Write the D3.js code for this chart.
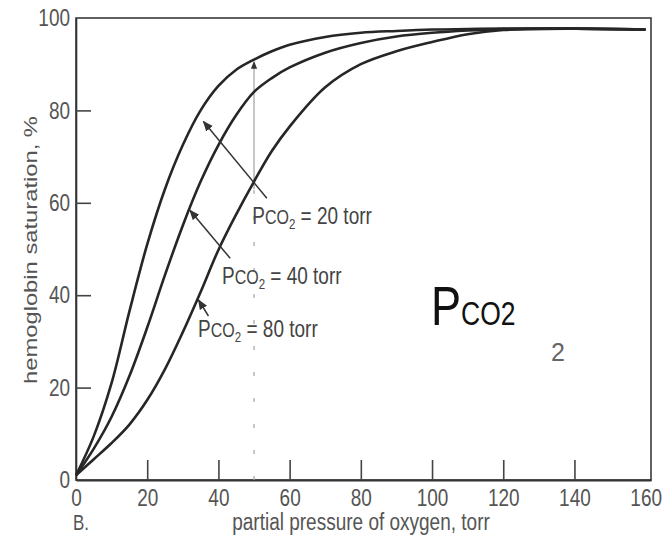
<!DOCTYPE html>
<html>
<head>
<meta charset="utf-8">
<script src="https://cdn.jsdelivr.net/npm/d3@7"></script>
<style>
  body { margin: 0; background: #fff; }
  text { font-family: "Liberation Sans", Arial, sans-serif; }
</style>
</head>
<body>
<div id="chart"></div>
<script>
// oxygen partial pressure (torr) and saturation (%) for each PCO2 curve
var pO2 = [0, 5, 10, 15, 20, 25, 30, 35, 40, 45, 50, 55, 60, 70, 80, 90, 100, 110, 120, 140, 160];
var sat20 = [1, 9.5, 21, 36.5, 51, 63, 72.5, 80, 85.3, 88.8, 91, 92.8, 94.2, 95.9, 96.8, 97.2, 97.5, 97.6, 97.7, 97.7, 97.5];
var sat40 = [1, 6.8, 13.7, 22.5, 33, 44.4, 55.1, 64.6, 72.5, 79, 84, 87, 89.3, 92.5, 94.6, 96, 96.8, 97.3, 97.6, 97.7, 97.5];
var sat80 = [1, 4.5, 8, 12, 17.3, 24, 32, 40.7, 49.8, 57.5, 64.6, 71.2, 76.5, 85, 90, 92.8, 94.8, 96.5, 97.4, 97.7, 97.5];

var xTicks = [0, 20, 40, 60, 80, 100, 120, 140, 160];
var yTicks = [0, 20, 40, 60, 80, 100];

// label arrows: [tail pO2, tail sat, tip pO2, tip sat]
var labelNames = ["20 torr", "40 torr", "80 torr"];
var labelArrows = [[53.6, 61, 35.8, 77.6], [43.3, 48, 32, 58.4], [37.2, 35.5, 34.4, 39]];
var labelPos = [[49.5, 55.4], [41, 42.4], [34.3, 31]];

var W = 664, H = 547;
var stretch = 1.25; // scan is stretched vertically

var svg = d3.select("#chart").append("svg")
    .attr("width", W)
    .attr("height", H);

var x = d3.scaleLinear().domain([0, 161.5]).range([76, 651]);
var y = d3.scaleLinear().domain([0, 100]).range([480, 18]);

svg.append("defs").append("marker")
    .attr("id", "arr")
    .attr("viewBox", "0 0 10 10")
    .attr("refX", 9).attr("refY", 5)
    .attr("markerWidth", 7).attr("markerHeight", 7)
    .attr("orient", "auto")
    .append("path")
    .attr("d", "M0,1 L10,5 L0,9 Z")
    .attr("fill", "#333");

// frame
svg.append("rect")
    .attr("x", x(0)).attr("y", y(100))
    .attr("width", x(161.5) - x(0))
    .attr("height", y(0) - y(100))
    .attr("fill", "none")
    .attr("stroke", "#3a3a3a")
    .attr("stroke-width", 1.6);

// X axis, ticks pointing inside
var xAxis = svg.append("g")
    .attr("transform", "translate(0," + y(0) + ")")
    .call(d3.axisBottom(x).tickValues(xTicks).tickSizeInner(-20).tickSizeOuter(0).tickPadding(7));
xAxis.select(".domain").attr("stroke", "#333").attr("stroke-width", 2);
xAxis.selectAll(".tick line")
    .attr("stroke", "#444").attr("stroke-width", 1.6)
    .attr("display", function (d) { return (d == 0 || d == 160) ? "none" : null; });
xAxis.selectAll(".tick text")
    .attr("fill", "#555")
    .attr("font-size", 19)
    .attr("font-family", "Liberation Sans, Arial, sans-serif")
    .attr("transform", "scale(1," + stretch + ")");

// Y axis
var yAxis = svg.append("g")
    .attr("transform", "translate(" + x(0) + ",0)")
    .call(d3.axisLeft(y).tickValues(yTicks).tickSizeInner(-15).tickSizeOuter(0).tickPadding(6));
yAxis.select(".domain").attr("stroke", "#333").attr("stroke-width", 1.6);
yAxis.selectAll(".tick line")
    .attr("stroke", "#444").attr("stroke-width", 1.6)
    .attr("display", function (d) { return (d == 0 || d == 100) ? "none" : null; });
yAxis.selectAll(".tick text")
    .attr("fill", "#555")
    .attr("font-size", 19)
    .attr("font-family", "Liberation Sans, Arial, sans-serif")
    .attr("transform", "scale(1," + stretch + ")");

// axis titles
svg.append("text")
    .attr("transform", "translate(37,250) scale(1," + stretch + ") rotate(-90)")
    .attr("text-anchor", "middle")
    .attr("fill", "#555")
    .attr("font-size", 19)
    .text("hemoglobin saturation, %");

svg.append("text")
    .attr("transform", "translate(361,530) scale(1," + stretch + ")")
    .attr("text-anchor", "middle")
    .attr("fill", "#555")
    .attr("font-size", 19)
    .text("partial pressure of oxygen, torr");

svg.append("text")
    .attr("transform", "translate(73,530) scale(1," + stretch + ")")
    .attr("fill", "#555")
    .attr("font-size", 17)
    .text("B.");

// pencil line at pO2 = 50
svg.append("line")
    .attr("x1", x(50)).attr("x2", x(50))
    .attr("y1", y(63)).attr("y2", y(90.5))
    .attr("stroke", "#999").attr("stroke-width", 1.1)
    .attr("marker-end", "url(#arr)");
svg.append("line")
    .attr("x1", x(50)).attr("x2", x(50))
    .attr("y1", y(0)).attr("y2", y(63))
    .attr("stroke", "#aaa").attr("stroke-width", 1.3)
    .attr("stroke-dasharray", "4,22");

// curves
var line = d3.line()
    .x(function (d) { return x(d[0]); })
    .y(function (d) { return y(d[1]); })
    .curve(d3.curveCatmullRom.alpha(0.5));

[sat20, sat40, sat80].forEach(function (s) {
    svg.append("path")
        .datum(pO2.map(function (p, i) { return [p, s[i]]; }))
        .attr("d", line)
        .attr("fill", "none")
        .attr("stroke", "#262626")
        .attr("stroke-width", 2.6);
});

// label arrows
svg.selectAll(".larrow")
    .data(labelArrows)
    .enter().append("line")
    .attr("class", "larrow")
    .attr("x1", function (d) { return x(d[0]); })
    .attr("y1", function (d) { return y(d[1]); })
    .attr("x2", function (d) { return x(d[2]); })
    .attr("y2", function (d) { return y(d[3]); })
    .attr("stroke", "#333")
    .attr("stroke-width", 1.5)
    .attr("marker-end", "url(#arr)");

// PCO2 labels
labelNames.forEach(function (name, i) {
    var t = svg.append("text")
        .attr("transform", "translate(" + x(labelPos[i][0]) + "," + y(labelPos[i][1]) + ") scale(1," + stretch + ")")
        .attr("fill", "#444")
        .attr("font-size", 19);
    t.append("tspan").text("P");
    t.append("tspan").attr("font-size", 16).text("CO");
    t.append("tspan").attr("font-size", 11.5).attr("dy", 4).text("2");
    t.append("tspan").attr("dy", -4).text(" = " + name);
});

// large PCO2 overlay
var big = svg.append("text")
    .attr("transform", "translate(431,325) scale(1," + stretch + ")")
    .attr("fill", "#111");
big.append("tspan").attr("font-size", 45).text("P");
big.append("tspan").attr("font-size", 26.5).text("CO2");

// pencil note
svg.append("text")
    .attr("x", 551).attr("y", 361)
    .attr("fill", "#666")
    .attr("font-size", 25)
    .attr("font-family", "DejaVu Sans, sans-serif")
    .text("2");
</script>
</body>
</html>
